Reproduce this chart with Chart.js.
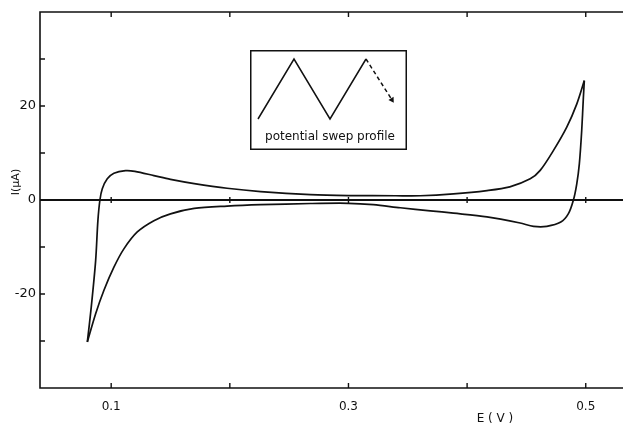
<!DOCTYPE html>
<html>
<head>
<meta charset="utf-8">
<script src="https://cdn.jsdelivr.net/npm/chart.js@4.4.1/dist/chart.umd.min.js"></script>
<style>
  html, body { margin: 0; padding: 0; background: #fff; }
  #wrap { position: relative; width: 623px; height: 426px; }
  #cv { position: absolute; left: 0; top: 0; }
  #inset { position: absolute; left: 250px; top: 50px; }
</style>
</head>
<body>
<div id="wrap">
  <canvas id="cv" width="623" height="426"></canvas>
  <canvas id="inset" width="157" height="100"></canvas>
</div>
<script>
// Cyclic voltammogram: potential E (V) vs current I (µA)
// Forward sweep: from the lower-left vertex up to the upper-right vertex
const forwardE = [0.0799, 0.0832, 0.0869, 0.0888, 0.0905, 0.0925, 0.0967, 0.1023, 0.1121, 0.1200,
                  0.1360, 0.1500, 0.1700, 0.1977, 0.2260, 0.2680, 0.3000, 0.3400, 0.3605, 0.3885,
                  0.4167, 0.4360, 0.4532, 0.4616, 0.4727, 0.4840, 0.4924, 0.4988];
const forwardI = [-30.2, -22.8, -12.9, -4.4, 0.0, 2.4, 4.5, 5.7, 6.25, 6.1,
                  5.2, 4.4, 3.5, 2.5, 1.8, 1.15, 0.95, 0.9, 0.9, 1.3,
                  2.0, 2.8, 4.5, 6.3, 10.5, 15.5, 20.4, 25.4];
// Reverse sweep: from the upper-right vertex back to the lower-left vertex
const reverseE = [0.4988, 0.4980, 0.4966, 0.4946, 0.4924, 0.4896, 0.4854, 0.4790, 0.4672, 0.4560,
                  0.4447, 0.4167, 0.3885, 0.3690, 0.3437, 0.3210, 0.3000, 0.2680, 0.2260, 0.1977,
                  0.1700, 0.1500, 0.1360, 0.1220, 0.1107, 0.1023, 0.0939, 0.0869, 0.0799];
const reverseI = [25.4, 21.8, 14.8, 7.7, 3.4, 0.0, -2.9, -4.7, -5.6, -5.6,
                  -4.9, -3.6, -2.8, -2.3, -1.65, -1.0, -0.7, -0.75, -1.0, -1.3,
                  -1.8, -2.95, -4.4, -6.8, -10.4, -14.3, -19.2, -24.2, -30.2];

// Axis ticks
const xTicks = [0.1, 0.2, 0.3, 0.4, 0.5];
const xTickLabels = ['0.1', '', '0.3', '', '0.5'];
const yTicks = [-30, -20, -10, 0, 10, 20, 30];
const yTickLabels = ['', '-20', '', '0', '', '20', ''];

// Inset: triangular potential sweep profile
const sweepT = [0, 1, 2, 3];
const sweepV = [0, 1, 0, 1];
const sweepTailT = [3, 3.72];
const sweepTailV = [1, 0.32];

const toXY = (xs, ys) => xs.map((v, i) => ({ x: v, y: ys[i] }));
const INK = '#111';
const FONT = 'DejaVu Sans';

const framePlugin = {
  id: 'frame',
  afterDatasetsDraw(chart) {
    const { ctx, chartArea: a, scales: { x, y } } = chart;
    ctx.save();
    ctx.strokeStyle = INK;
    ctx.lineWidth = 1.6;
    ctx.beginPath();
    ctx.moveTo(a.right, a.top);
    ctx.lineTo(a.left, a.top);
    ctx.lineTo(a.left, a.bottom);
    ctx.lineTo(a.right, a.bottom);
    ctx.stroke();

    // zero-current baseline
    const y0 = y.getPixelForValue(0);
    ctx.lineWidth = 2;
    ctx.beginPath();
    ctx.moveTo(a.left, y0);
    ctx.lineTo(a.right, y0);
    ctx.stroke();

    // inward tick marks
    ctx.lineWidth = 1.4;
    ctx.beginPath();
    x.ticks.forEach(t => {
      const px = x.getPixelForValue(t.value);
      ctx.moveTo(px, a.bottom); ctx.lineTo(px, a.bottom - 5);
      ctx.moveTo(px, a.top); ctx.lineTo(px, a.top + 5);
      ctx.moveTo(px, y0 - 3); ctx.lineTo(px, y0 + 3);
    });
    y.ticks.forEach(t => {
      const py = y.getPixelForValue(t.value);
      ctx.moveTo(a.left, py); ctx.lineTo(a.left + 5, py);
    });
    ctx.stroke();

    // axis titles
    ctx.fillStyle = INK;
    ctx.font = '11px "' + FONT + '"';
    ctx.textAlign = 'center';
    ctx.textBaseline = 'middle';
    ctx.save();
    ctx.translate(a.left - 24, a.top + 170);
    ctx.rotate(-Math.PI / 2);
    ctx.fillText('I(\u03bcA)', 0, 0);
    ctx.restore();
    ctx.font = '12px "' + FONT + '"';
    ctx.fillText('E ( V )', a.right - 128, a.bottom + 31);
    ctx.restore();
  }
};

new Chart(document.getElementById('cv'), {
  type: 'scatter',
  data: {
    datasets: [
      { data: toXY(forwardE, forwardI) },
      { data: toXY(reverseE, reverseI) }
    ]
  },
  options: {
    responsive: false,
    animation: false,
    layout: { padding: { top: 12, right: 0, left: 0, bottom: 0 } },
    elements: {
      line: { borderColor: INK, borderWidth: 1.7, tension: 0.3 },
      point: { radius: 0 }
    },
    datasets: { scatter: { showLine: true } },
    plugins: { legend: { display: false }, tooltip: { enabled: false } },
    scales: {
      x: {
        type: 'linear',
        min: 0.04,
        max: 0.5314,
        afterBuildTicks: s => { s.ticks = xTicks.map(v => ({ value: v })); },
        afterFit: s => { s.height = 38; },
        grid: { display: false, drawTicks: false },
        border: { display: false },
        ticks: {
          padding: 12,
          color: INK,
          font: { family: FONT, size: 12 },
          callback: (v) => xTickLabels[xTicks.indexOf(Math.round(v * 10) / 10)] ?? ''
        }
      },
      y: {
        type: 'linear',
        min: -40,
        max: 40,
        afterBuildTicks: s => { s.ticks = yTicks.map(v => ({ value: v })); },
        afterFit: s => { s.width = 40; },
        grid: { display: false, drawTicks: false },
        border: { display: false },
        ticks: {
          padding: 4,
          color: INK,
          font: { family: FONT, size: 13 },
          callback: (v) => yTickLabels[yTicks.indexOf(v)] ?? ''
        }
      }
    }
  },
  plugins: [framePlugin]
});

const boxPlugin = {
  id: 'box',
  afterDraw(chart) {
    const { ctx, width, height } = chart;
    ctx.save();
    ctx.strokeStyle = INK;
    ctx.lineWidth = 1.5;
    ctx.strokeRect(0.75, 0.75, width - 1.5, height - 1.5);
    ctx.restore();
  }
};

new Chart(document.getElementById('inset'), {
  type: 'scatter',
  data: {
    datasets: [
      { data: toXY(sweepT, sweepV), pointRadius: 0 },
      {
        data: toXY(sweepTailT, sweepTailV),
        borderDash: [4, 3],
        pointRadius: [0, 3.5],
        pointStyle: 'triangle',
        rotation: [0, 148],
        pointBackgroundColor: INK,
        pointBorderColor: INK,
        pointBorderWidth: 0
      }
    ]
  },
  options: {
    responsive: false,
    animation: false,
    clip: false,
    layout: { padding: { top: 9, left: 8, right: 5, bottom: 0 } },
    elements: { line: { borderColor: INK, borderWidth: 1.5, tension: 0 } },
    datasets: { scatter: { showLine: true } },
    plugins: {
      legend: { display: false },
      tooltip: { enabled: false },
      title: {
        display: true,
        position: 'bottom',
        text: 'potential swep profile',
        color: INK,
        font: { family: FONT, size: 12, weight: 'normal' },
        padding: { top: 10.8, bottom: 5.8 }
      }
    },
    scales: {
      x: { type: 'linear', display: false, min: 0, max: 4 },
      y: { type: 'linear', display: false, min: 0, max: 1 }
    }
  },
  plugins: [boxPlugin]
});
</script>
</body>
</html>
